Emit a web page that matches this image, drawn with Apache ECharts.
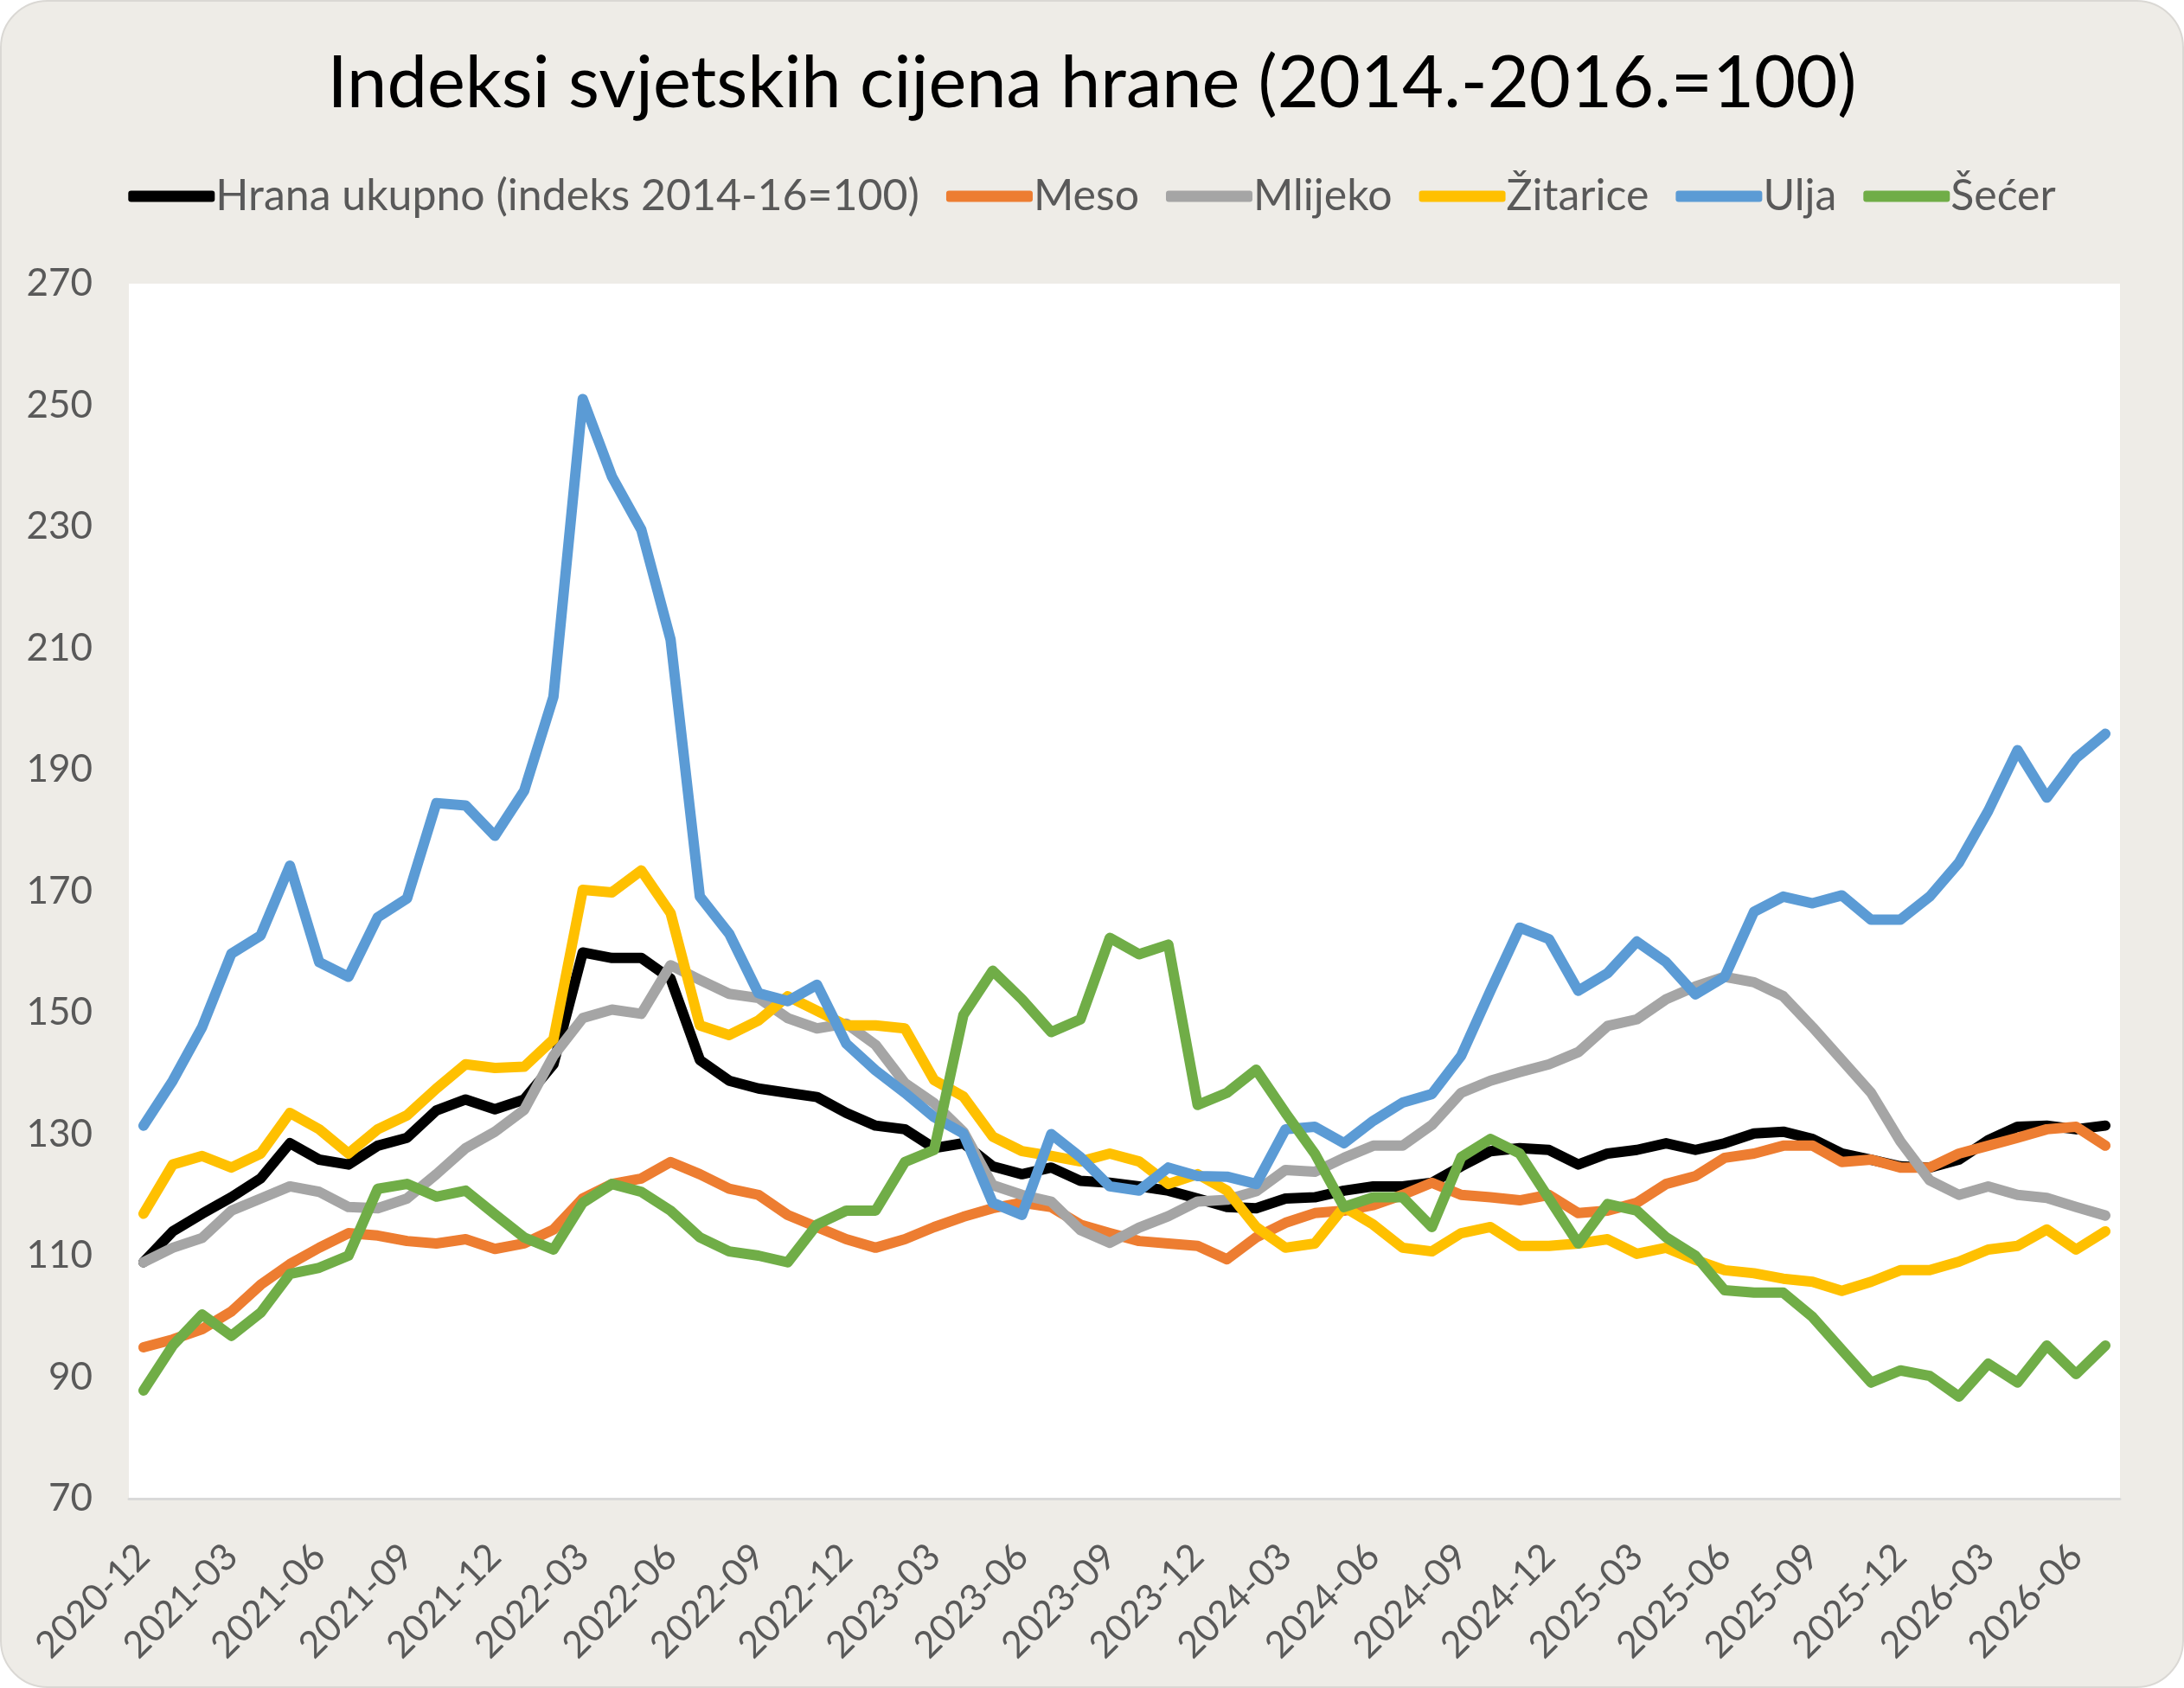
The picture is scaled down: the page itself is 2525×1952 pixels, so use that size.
<!DOCTYPE html>
<html>
<head>
<meta charset="UTF-8">
<script src="https://cdn.jsdelivr.net/npm/echarts@6/dist/echarts.min.js"></script>
<style>
    html, body { margin: 0; padding: 0; background: #fff; }
    #chart {
        width: 2521px; height: 1948px;
        background: #EEECE7;
        border: 2px solid #DAD8D4;
        border-radius: 55px;
        overflow: hidden;
    }
</style>
</head>
<body>
<div id="chart"></div>
<script>
    // mjeseci 2020-12 .. 2026-07
    var months = [
        '2020-12',
        '2021-01', '2021-02', '2021-03', '2021-04', '2021-05', '2021-06', '2021-07', '2021-08', '2021-09', '2021-10', '2021-11', '2021-12',
        '2022-01', '2022-02', '2022-03', '2022-04', '2022-05', '2022-06', '2022-07', '2022-08', '2022-09', '2022-10', '2022-11', '2022-12',
        '2023-01', '2023-02', '2023-03', '2023-04', '2023-05', '2023-06', '2023-07', '2023-08', '2023-09', '2023-10', '2023-11', '2023-12',
        '2024-01', '2024-02', '2024-03', '2024-04', '2024-05', '2024-06', '2024-07', '2024-08', '2024-09', '2024-10', '2024-11', '2024-12',
        '2025-01', '2025-02', '2025-03', '2025-04', '2025-05', '2025-06', '2025-07', '2025-08', '2025-09', '2025-10', '2025-11', '2025-12',
        '2026-01', '2026-02', '2026-03', '2026-04', '2026-05', '2026-06', '2026-07'
    ];

    var hrana = [108.9, 114.0, 116.9, 119.6, 122.7, 128.5, 125.8, 125.0, 128.1, 129.4, 133.9, 135.7, 134.1,
        135.7, 141.5, 159.9, 159.0, 159.0, 155.6, 142.2, 138.8, 137.5, 136.8, 136.1, 133.5,
        131.4, 130.8, 127.7, 128.5, 124.7, 123.4, 124.5, 122.3, 122.0, 121.4, 120.7, 119.4,
        118.0, 117.8, 119.4, 119.6, 120.7, 121.4, 121.4, 122.0, 124.7, 127.2, 127.7, 127.4,
        125.0, 126.8, 127.4, 128.5, 127.4, 128.5, 130.1, 130.4, 129.2, 126.8, 125.8, 124.7,
        124.5, 125.8, 129.0, 131.2, 131.4, 130.8, 131.4];

    var meso = [94.9, 96.2, 97.9, 100.8, 105.2, 108.6, 111.3, 113.7, 113.3, 112.4, 112.0, 112.7, 111.1,
        112.0, 114.3, 119.4, 121.8, 122.7, 125.4, 123.4, 121.0, 120.0, 116.7, 114.7, 112.7,
        111.3, 112.7, 114.7, 116.4, 117.8, 118.7, 118.0, 115.1, 113.7, 112.4, 112.0, 111.6,
        109.4, 113.0, 115.4, 117.0, 117.4, 118.3, 120.0, 122.0, 120.0, 119.6, 119.1, 120.0,
        117.0, 117.4, 118.7, 121.8, 123.1, 126.1, 126.8, 128.1, 128.1, 125.4, 125.8, 124.5,
        124.5, 126.8, 128.1, 129.4, 130.8, 131.2, 128.1];

    var mlijeko = [108.9, 111.3, 112.9, 117.4, 119.4, 121.4, 120.5, 118.0, 117.8, 119.4, 123.4, 127.7, 130.4,
        134.0, 142.9, 149.1, 150.5, 149.8, 157.8, 155.4, 153.1, 152.4, 149.1, 147.4, 148.2,
        144.7, 138.4, 135.1, 130.4, 121.6, 120.0, 118.9, 114.2, 112.1, 114.6, 116.5, 118.9,
        119.2, 120.6, 124.1, 123.8, 126.1, 128.1, 128.1, 131.5, 136.8, 138.8, 140.2, 141.5,
        143.5, 147.8, 148.9, 152.2, 154.3, 155.9, 155.0, 152.7, 147.6, 142.2, 136.8, 128.8,
        122.4, 120.0, 121.4, 120.0, 119.5, 118.0, 116.6];

    var zitarice = [116.9, 125.0, 126.4, 124.5, 126.8, 133.5, 130.8, 126.8, 130.8, 133.1, 137.5, 141.5, 140.9,
        141.1, 145.6, 170.2, 169.8, 173.4, 166.4, 147.9, 146.3, 148.7, 152.7, 150.3, 147.9,
        147.9, 147.4, 138.9, 136.2, 129.6, 127.2, 126.4, 125.5, 126.8, 125.5, 121.8, 123.4,
        120.7, 114.7, 111.3, 112.0, 118.0, 115.1, 111.3, 110.7, 113.7, 114.7, 111.6, 111.6,
        112.0, 112.7, 110.3, 111.3, 109.3, 107.6, 107.1, 106.2, 105.7, 104.2, 105.7, 107.6,
        107.6, 109.0, 111.0, 111.6, 114.3, 111.0, 114.0];

    var ulja = [131.4, 138.8, 147.6, 159.7, 162.7, 174.2, 158.3, 155.9, 165.7, 168.8, 184.5, 184.1, 179.1,
        186.5, 202.0, 251.0, 238.2, 229.5, 211.4, 169.1, 163.0, 153.2, 151.9, 154.6, 144.9,
        140.5, 136.8, 132.8, 130.1, 118.7, 116.7, 130.0, 126.2, 121.4, 120.7, 124.5, 123.1,
        123.0, 121.8, 130.8, 131.2, 128.5, 132.2, 135.2, 136.6, 142.9, 153.6, 164.0, 162.1,
        153.6, 156.5, 161.7, 158.3, 153.0, 155.9, 166.6, 169.1, 168.0, 169.3, 165.3, 165.3,
        169.1, 174.7, 183.2, 193.2, 185.4, 191.9, 195.9];

    var secer = [87.8, 95.2, 100.3, 96.8, 100.6, 107.0, 108.0, 110.0, 121.0, 121.8, 119.7, 120.7, 116.8,
        113.0, 111.0, 118.7, 121.8, 120.5, 117.4, 113.0, 110.7, 110.0, 108.9, 115.1, 117.4,
        117.4, 125.4, 127.4, 149.6, 156.9, 152.2, 146.8, 148.9, 162.3, 159.6, 161.2, 134.8,
        136.8, 140.6, 133.5, 126.8, 118.0, 119.6, 119.6, 114.7, 126.2, 129.2, 126.8, 119.4,
        112.0, 118.5, 117.4, 113.0, 110.0, 104.3, 103.9, 103.9, 99.9, 94.5, 89.1, 91.1,
        90.2, 86.8, 92.2, 89.1, 95.2, 90.5, 95.2];

    var names = ['Hrana ukupno (indeks 2014-16=100)', 'Meso', 'Mlijeko', 'Žitarice', 'Ulja', 'Šećer'];
    var colors = ['#000000', '#ED7D31', '#A5A5A5', '#FFC000', '#5B9BD5', '#70AD47'];
    var values = [hrana, meso, mlijeko, zitarice, ulja, secer];

    var font = 'Lato, "Open Sans", sans-serif';
    var dom = document.getElementById('chart');
    var myChart = echarts.init(dom, null, {renderer: 'canvas'});

    var series = [];
    for (var i = 0; i < names.length; i++) {
        series.push({
            name: names[i],
            type: 'line',
            data: values[i],
            symbol: 'none',
            showSymbol: false,
            smooth: false,
            lineStyle: {color: colors[i], width: 12, cap: 'round', join: 'round'},
            itemStyle: {color: colors[i]},
            emphasis: {disabled: true}
        });
    }

    var option = {
        backgroundColor: 'transparent',
        animation: false,
        title: {
            text: 'Indeksi svjetskih cijena hrane (2014.-2016.=100)',
            left: 'center',
            top: 49,
            textStyle: {fontFamily: font, fontSize: 83, fontWeight: 'normal', color: '#000'}
        },
        legend: {
            top: 195,
            left: 'center',
            itemWidth: 100,
            itemHeight: 13,
            itemGap: 31,
            icon: 'roundRect',
            data: names,
            textStyle: {fontFamily: font, fontSize: 50, color: '#595959', padding: [0, 0, 0, -4]}
        },
        grid: {
            left: 147, top: 326, width: 2302, height: 1405,
            show: true, backgroundColor: '#ffffff', borderWidth: 0,
            containLabel: false
        },
        xAxis: {
            type: 'category',
            data: months,
            boundaryGap: true,
            axisLine: {lineStyle: {color: '#D9D9D9', width: 3}},
            axisTick: {show: false},
            axisLabel: {
                interval: 2,
                rotate: 45,
                margin: 60,
                fontFamily: font,
                fontSize: 43,
                color: '#595959'
            },
            splitLine: {show: false}
        },
        yAxis: {
            type: 'value',
            min: 70,
            max: 270,
            interval: 20,
            axisLine: {show: false},
            axisTick: {show: false},
            splitLine: {show: false},
            axisLabel: {margin: 42, fontFamily: font, fontSize: 44, color: '#595959'}
        },
        series: series
    };

    myChart.setOption(option, true);
</script>
</body>
</html>
